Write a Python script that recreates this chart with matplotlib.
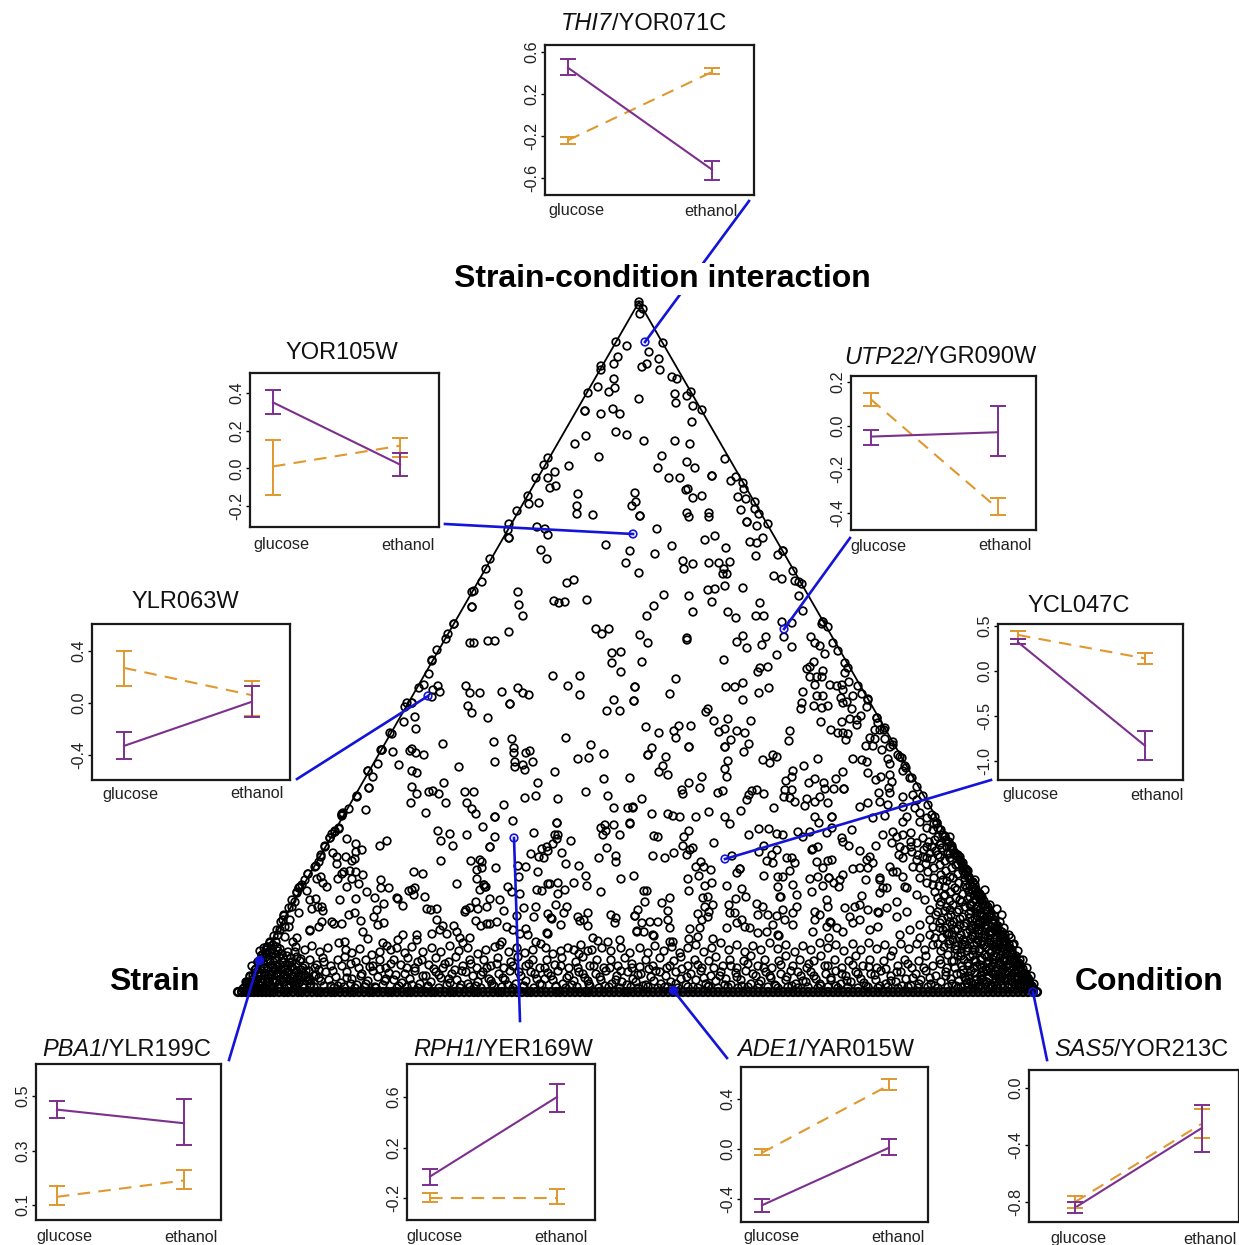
import matplotlib
matplotlib.use('Agg')
import matplotlib.pyplot as plt

plt.rcParams['font.family'] = ['Liberation Sans', 'DejaVu Sans']

# triangle corners
tri_x = [242, 639, 1037, 242]
tri_y = [992, 302, 992, 992]

# genes in the upper part of the triangle
pts_top = [(639,302),(639,305),(643,309),(640,314),(616,342),(627,346),(663,343),(649,352),(618,357),(614,364),(601,366),(601,370),(659,359),(647,364),(642,367),(660,370),(672,377),(677,379),(614,379),(598,387),(615,388),(609,392),(588,393),(691,392),(687,396),(675,394),(676,403),(639,399),(693,406),(702,410),(585,411),(585,411),(601,414),(613,409),(620,414),(692,422),(616,432),(627,435),(586,436),(575,444),(644,441),(675,441),(690,444),(662,456),(599,457),(548,458),(725,459),(687,462),(695,468),(658,468),(569,466),(544,465),(555,472),(548,478),(536,478),(712,476),(712,476),(669,478),(680,478),(736,477),(731,481),(743,483),(744,489),(556,486),(550,488),(686,490),(688,489),(702,496),(693,498),(738,497),(746,499),(755,502),(755,509),(759,514),(741,510),(635,493),(578,494),(528,496),(529,504),(539,503),(636,502),(632,506),(577,506),(577,514),(593,515),(640,516),(640,516),(687,513),(689,517),(709,513),(709,517),(517,511),(509,524),(508,530),(509,538),(509,538),(537,527),(545,529),(548,535),(747,522),(747,522),(757,526),(768,524),(657,529),(715,536),(705,540),(763,538),(750,542),(757,543),(726,548),(672,546),(606,545),(630,551),(541,550),(655,554),(783,551),(783,551),(778,555),(756,556),(547,559),(490,559),(486,569),(626,563),(683,561),(693,564),(709,563),(719,563),(730,562),(684,569),(724,569),(723,574),(727,574),(639,573),(793,571),(774,576),(782,579),(795,581),(799,582),(802,584),(482,582),(567,583),(574,580),(725,586),(743,588),(708,590),(715,589),(472,592),(474,591),(518,592),(664,595),(689,596),(799,596),(712,602),(760,603),(554,601),(559,603),(565,602),(587,600),(519,605),(472,607),(472,607),(654,606),(803,611),(693,612),(728,612),(736,618),(756,616),(764,616),(523,616),(647,616),(454,624),(454,624),(782,622),(792,623),(823,622),(822,624),(828,627),(596,629),(609,629),(602,634),(509,632),(640,635),(784,637),(811,637),(766,637),(743,636),(687,638)]

# middle band, left half
pts_mid_left = [(470,643),(474,643),(488,641),(495,641),(612,653),(621,652),(612,663),(621,672),(432,661),(429,674),(553,676),(580,676),(568,686),(580,695),(635,687),(614,700),(634,701),(607,711),(620,711),(424,685),(419,688),(438,686),(433,690),(440,692),(432,697),(466,686),(470,693),(480,693),(502,692),(518,688),(523,693),(529,695),(510,704),(510,704),(468,706),(472,713),(488,718),(412,703),(412,703),(415,717),(404,722),(416,729),(392,734),(443,744),(494,742),(512,739),(566,738),(591,745),(382,750),(382,750),(393,752),(410,751),(412,749),(416,753),(424,755),(514,748),(514,753),(526,753),(530,751),(604,754),(578,759),(589,758),(378,764),(399,765),(459,767),(495,762),(515,762),(515,767),(523,765),(525,770),(533,762),(555,772),(368,771),(373,777),(412,771),(417,773),(604,779),(630,778),(538,783),(444,783),(369,788),(369,788),(412,787),(417,794),(429,792),(433,791),(439,794),(465,792),(474,792),(357,796),(536,796),(525,798),(558,799),(586,792),(608,796),(411,803),(446,803),(467,803),(472,809),(476,814),(504,805),(614,808),(628,808),(633,808),(349,809),(366,810),(342,814),(342,815),(426,813),(495,817),(495,817),(513,821),(557,823),(557,823),(630,824),(614,825),(483,827),(605,825),(601,828),(606,831),(603,835),(620,835),(339,829),(335,831),(332,834),(330,838),(438,831),(450,834),(467,835),(495,837),(534,833),(555,835),(558,835),(557,839),(347,839),(356,844),(387,841),(380,846),(441,841),(453,846),(490,847),(490,847),(571,841),(553,844),(547,847),(542,849),(548,851),(325,846),(362,850),(356,852),(607,848),(562,853),(531,854),(539,857),(544,858),(616,856),(599,858),(616,862),(333,853),(337,857),(346,857),(355,859),(352,861),(321,857),(319,862),(337,864),(315,867),(441,861),(471,861),(480,860),(482,862),(566,864),(579,866),(518,866),(526,867),(496,868),(477,870),(482,868)]

# middle band, right half
pts_mid_right = [(648,643),(687,640),(737,642),(747,648),(762,645),(777,655),(792,647),(815,643),(820,646),(825,654),(833,643),(642,662),(724,660),(768,667),(760,668),(758,672),(814,662),(810,667),(807,669),(817,677),(823,671),(822,677),(810,677),(815,685),(848,668),(845,673),(676,679),(635,687),(634,701),(670,694),(726,687),(735,687),(743,683),(769,688),(759,693),(743,700),(803,692),(802,703),(801,709),(830,685),(837,686),(842,685),(849,682),(843,690),(817,696),(823,696),(841,698),(853,696),(862,694),(868,699),(814,706),(822,708),(828,706),(843,703),(847,702),(852,709),(867,707),(708,709),(706,712),(714,721),(728,719),(751,721),(821,722),(842,722),(850,719),(861,716),(857,720),(857,725),(877,718),(878,723),(646,727),(659,733),(679,726),(674,731),(676,738),(691,726),(725,729),(719,732),(737,731),(745,733),(731,740),(790,731),(789,741),(831,730),(838,733),(843,733),(848,734),(846,740),(875,730),(880,730),(885,728),(870,738),(875,739),(885,739),(893,742),(866,746),(873,746),(882,750),(890,747),(898,755),(902,758),(888,759),(890,764),(905,766),(903,771),(910,778),(689,747),(689,747),(725,747),(725,747),(749,744),(744,752),(652,748),(648,755),(648,755),(666,757),(663,766),(659,772),(668,775),(728,761),(725,769),(727,777),(763,760),(770,763),(773,755),(777,757),(818,759),(804,766),(793,771),(792,777),(786,781),(853,759),(862,760),(867,762),(868,773),(843,772),(836,779),(881,777),(890,775),(876,780),(892,782),(889,788),(890,793),(815,779),(809,783),(824,783),(825,789),(834,789),(844,789),(844,789),(702,777),(689,783),(700,788),(682,790),(683,794),(718,793),(723,791),(752,791),(757,790),(749,795),(747,800),(764,794),(792,790),(785,790),(784,797),(790,798),(795,802),(807,799),(805,806),(815,802),(820,797),(828,803),(879,793),(880,802),(888,805),(903,797),(913,795),(917,800),(915,808),(903,807),(642,799),(633,807),(630,823),(652,814),(668,814),(673,816),(680,817),(696,817),(709,812),(725,817),(730,824),(741,811),(774,808),(860,807),(868,803),(873,818),(885,816),(815,817),(819,823),(832,817),(832,817),(907,817),(903,822),(920,813),(927,818),(935,817),(937,823),(654,836),(658,837),(689,831),(684,837),(683,846),(693,848),(690,850),(714,843),(749,835),(759,829),(769,829),(777,834),(783,835),(798,832),(803,837),(810,832),(827,833),(832,828),(842,838),(843,842),(849,846),(852,830),(876,846),(860,851),(812,850),(818,847),(813,849),(883,835),(893,832),(897,837),(903,835),(911,833),(911,842),(892,843),(900,847),(920,822),(927,828),(933,830),(938,837),(945,837),(950,837),(927,847),(932,847),(940,845),(948,853),(955,855),(653,856),(665,858),(674,853),(687,855),(732,856),(759,852),(764,846),(777,850),(772,855),(767,861),(773,863),(787,858),(792,858),(795,863),(701,862),(696,867),(704,867),(711,870),(699,876),(740,869),(740,869),(737,873),(764,876),(778,877),(783,877),(790,871),(817,862),(823,868),(828,861),(832,860),(810,879),(818,877),(829,878),(829,878),(843,875),(840,880),(834,883),(839,887),(853,869),(860,868),(867,860),(870,857),(873,863),(868,868),(866,880),(880,878),(893,872),(897,872),(903,858),(917,860),(923,857),(927,858),(940,857),(952,860),(958,857),(963,863),(967,870),(890,867),(903,877),(913,867),(920,878),(927,883),(933,885),(943,880),(950,877)]

# lower band, left half
pts_low_left = [(350,871),(344,872),(356,872),(363,875),(308,874),(342,874),(352,879),(338,879),(317,879),(321,877),(323,883),(327,887),(359,884),(347,887),(414,872),(423,874),(538,872),(519,877),(477,879),(586,876),(621,879),(634,876),(381,880),(381,888),(389,888),(457,884),(484,885),(484,885),(485,887),(480,890),(486,887),(508,887),(512,892),(520,894),(548,884),(550,884),(558,883),(574,883),(587,886),(537,890),(542,891),(565,890),(558,894),(601,892),(412,890),(415,888),(409,891),(414,895),(367,892),(375,898),(425,897),(299,888),(300,887),(302,885),(307,891),(297,893),(340,900),(356,899),(397,898),(398,899),(384,904),(310,900),(316,899),(295,902),(292,907),(312,909),(318,907),(322,907),(323,911),(299,913),(377,910),(403,906),(427,909),(431,910),(437,909),(476,902),(487,907),(490,899),(500,900),(470,908),(465,912),(466,910),(478,909),(504,911),(524,908),(536,907),(556,905),(567,907),(564,913),(588,913),(611,915),(616,918),(615,923),(635,916),(517,916),(534,917),(548,914),(551,918),(552,919),(578,917),(580,921),(584,920),(588,926),(561,925),(284,915),(283,920),(290,920),(349,915),(355,913),(374,917),(384,923),(378,925),(361,921),(342,924),(322,922),(332,922),(334,924),(319,927),(310,930),(310,931),(437,920),(443,926),(454,926),(476,921),(481,926),(487,924),(490,924),(497,922),(507,927),(513,930),(526,929),(280,930),(285,927),(289,927),(278,935),(285,937),(363,932),(368,939),(432,934),(403,935),(398,940),(417,935),(417,940),(440,930),(447,934),(457,932),(460,938),(463,943),(470,938),(520,934),(528,935),(547,933),(548,934),(593,938),(598,941),(608,942),(620,940),(637,931),(270,943),(276,942),(267,947),(297,938),(293,942),(339,943),(345,942),(383,943),(387,946),(397,948),(502,942),(500,945),(536,942),(541,944),(568,948),(574,950),(581,945),(588,951),(602,948),
(260,951),(266,953),(272,950),(280,949),(288,952),(296,947),(305,950),(312,946),(320,952),(328,948),(346,950),(352,953),(360,949),(372,955),(380,952),(391,950),(405,953),(412,947),(423,952),(432,948),(441,952),(450,946),(459,951),(468,948),(478,954),(486,950),(495,947),(509,952),(517,948),(525,953),(533,950),(546,948),(553,954),(561,951),(579,954),(592,950),(611,951),(621,948),(630,953),
(252,966),(258,962),(264,968),(270,960),(277,965),(283,958),(290,963),(297,957),(303,968),(310,960),(317,965),(323,958),(331,966),(338,960),(345,957),(351,964),(359,968),(366,960),(373,966),(380,960),(386,968),(394,960),(401,965),(408,958),(415,968),(422,960),(429,965),(436,958),(443,968),(449,962),(456,957),(463,966),(470,960),(477,968),(484,960),(491,966),(498,958),(504,968),(511,962),(518,957),(526,966),(533,960),(540,968),(547,960),(555,965),(562,958),(569,968),(576,962),(583,957),(590,966),(597,960),(604,968),(611,960),(618,966),(625,958),(632,968),
(246,982),(250,976),(255,984),(259,972),(263,979),(267,986),(272,974),(277,981),(281,970),(286,978),(291,985),(296,973),(300,980),(306,971),(311,984),(316,975),(321,981),(326,972),(331,986),(336,977),(341,983),(347,972),(352,979),(357,985),(362,974),(368,981),(373,971),(378,977),(383,985),(389,973),(394,980),(399,986),(405,974),(410,979),(415,971),(420,984),(426,976),(431,982),(436,972),(441,978),(447,985),(452,974),(457,980),(462,971),(468,984),(473,976),(478,982),(483,972),(489,979),(494,986),(499,974),(505,980),(510,971),(516,984),(521,976),(526,981),(531,972),(537,979),(542,985),(548,973),(553,980),(558,971),(563,984),(569,976),(574,981),(579,972),(585,978),(590,986),(596,974),(601,980),(606,971),(612,984),(617,976),(622,982),(628,972),(633,979),
(248,987),(253,980),(258,988),(262,983),(268,978),(274,988),(279,984),(284,975),(289,988),(294,982),(299,976),(304,988),(309,979),(314,987),(319,970),(324,986),(334,988),(344,987),(355,988),(365,987),(376,988),(386,979),(397,988),(407,987),(418,988),(428,987),(439,988),(449,979),(460,988),(470,987),(481,988),(491,981),(502,987),(513,988),(523,987),(534,988),(545,979),(556,987),(566,988),(577,987),(588,981),(599,988),(609,987),(620,988),(631,987)]

# lower band, right half, getting dense towards the corner
pts_low_right = [(644,891),(647,891),(645,902),(662,903),(670,898),(638,910),(635,916),(642,923),(650,922),(658,922),(668,911),(668,920),(670,928),(637,932),(644,932),(653,935),(654,936),(703,898),(708,897),(713,905),(705,907),(709,912),(698,914),(708,917),(702,920),(700,928),(690,929),(698,937),(689,939),(670,942),(673,942),(713,939),(730,913),(735,913),(742,920),(737,923),(745,927),(727,928),(757,904),(763,907),(758,915),(768,915),(777,916),(783,910),(785,920),(773,925),(793,925),(750,928),(758,933),(767,932),(778,935),(779,936),(815,912),(820,915),(815,920),(830,922),(831,923),(827,927),(813,932),(837,928),(843,932),(829,938),(850,917),(853,923),(860,920),(878,912),(879,913),(887,908),(897,917),(907,912),(878,927),(870,930),(688,879),(689,891),(705,886),(712,883),(727,886),(742,889),(746,897),(736,899),(729,905),(778,887),(780,897),(781,897),(793,885),(797,895),(797,907),(793,913),(812,892),(823,886),(827,900),(828,907),(845,908),(855,907),(862,896),(860,905),(868,910),(880,880),(883,888),(880,893),(887,888),(897,902),(907,888),(917,895),(905,887),(925,900),(935,892),(945,895),(955,888),(965,885),(975,880),(985,890),(930,910),(940,905),(950,910),(960,900),(970,905),(980,910),(990,905),(920,925),(930,920),(940,928),(950,922),(960,925),(970,918),(980,922),(990,915),(1000,922),(900,935),(910,930),(920,938),(930,935),(942,938),(952,935),(963,940),(975,936),(985,935),(995,930),(1005,935),
(640,948),(648,953),(655,946),(664,951),(672,947),(680,953),(688,948),(696,945),(704,952),(712,948),(721,943),(729,950),(737,945),(745,952),(753,946),(761,950),(770,943),(778,949),(786,945),(795,952),(803,946),(811,950),(820,943),(828,948),(836,945),(844,951),(853,944),(861,950),(869,943),(877,949),(885,945),(893,951),(901,944),(909,949),(917,944),(925,950),(933,945),(941,951),(949,944),(957,950),(965,945),(973,950),(981,944),(989,950),(997,944),(1005,949),(1013,945),
(640,967),(646,960),(653,966),(660,958),(667,968),(674,961),(681,957),(688,966),(695,960),(702,968),(709,961),(716,957),(723,966),(730,960),(737,968),(744,961),(751,956),(758,966),(765,960),(772,968),(779,961),(786,956),(793,966),(800,960),(807,968),(814,961),(821,956),(828,966),(835,960),(842,968),(849,961),(856,956),(863,966),(870,960),(877,968),(884,961),(891,956),(898,966),(905,960),(912,968),(919,961),(926,956),(933,966),(940,960),(947,968),(954,961),(961,956),(968,966),(975,960),(982,968),(989,961),(996,956),(1003,966),(1010,960),(1017,965),
(636,982),(641,974),(646,985),(651,977),(656,971),(661,984),(666,976),(671,982),(676,972),(681,979),(686,985),(691,974),(696,980),(701,971),(706,984),(711,976),(716,981),(721,972),(726,979),(731,985),(736,973),(741,980),(746,971),(751,984),(756,976),(761,981),(766,972),(771,978),(776,986),(781,974),(786,980),(791,971),(796,984),(801,976),(806,982),(811,972),(816,979),(821,986),(826,974),(831,980),(836,971),(841,984),(846,976),(851,982),(856,972),(861,979),(866,986),(871,974),(876,980),(881,971),(886,984),(891,976),(896,982),(901,972),(906,979),(911,986),(916,974),(921,980),(926,971),(931,984),(936,976),(941,982),(946,972),(951,979),(956,986),(961,974),(966,980),(971,971),(976,984),(981,976),(986,982),(991,972),(996,979),(1001,986),(1006,974),(1011,980),(1016,971),(1021,984),(1026,977),
(638,988),(648,987),(658,988),(668,987),(678,988),(688,987),(698,988),(708,987),(718,988),(728,987),(738,988),(748,987),(758,988),(768,987),(778,988),(788,987),(798,988),(808,987),(818,988),(828,987),(838,988),(848,987),(858,988),(868,987),(878,988),(888,987),(898,988),(908,987),(918,988),(928,987),(938,988),(948,987),(958,988),(968,987),(978,988),(988,987),(998,988),(1008,987),(1018,988),(1028,987),
(1000,965),(1005,958),(1010,952),(1015,960),(1020,968),(1024,975),(1028,982),(1030,985),(1012,970),(1018,976),(1022,980),(1008,972),(1002,977),(996,974),(1016,966),(1006,944),(1011,938),(994,947),(1000,941),(988,938),(995,927),(1002,915),(997,909),(985,925),(978,930),(972,928),(1004,928),(1009,935),(1014,944),(1018,951),(1023,960),(1027,968),(1031,976),(1034,984)]

# second helping for the solid black corner on the right
pts_corner_right = [(1032,986),(1027,985),(1021,987),(1015,985),(1009,984),(1003,988),(997,985),(991,986),(985,984),(979,987),(973,985),(967,983),(961,987),
(1029,980),(1024,981),(1018,979),(1013,982),(1007,979),(1001,981),(995,983),(989,978),(983,980),(977,979),(971,982),(965,978),(959,981),
(1026,974),(1021,975),(1016,973),(1011,976),(1005,972),(999,976),(993,974),(987,971),(981,975),(975,973),(969,976),(963,970),(957,974),
(1023,969),(1018,970),(1013,967),(1008,965),(1003,970),(997,968),(992,966),(986,969),(980,965),(974,968),(968,963),(962,966),(955,968),
(1019,963),(1014,961),(1009,964),(1004,961),(999,963),(993,960),(988,963),(982,958),(976,962),(970,957),(964,960),(958,956),(952,961),
(1016,956),(1011,957),(1006,954),(1001,955),(996,957),(991,953),(985,955),(979,951),(973,955),(967,951),(961,953),(955,949),(948,955),
(1012,950),(1007,951),(1002,948),(997,950),(992,951),(986,947),(980,949),(974,945),(968,948),(962,944),(956,946),(950,941),(944,947),
(1009,944),(1004,942),(999,945),(994,942),(989,943),(983,941),(977,943),(971,939),(965,942),(959,938),(953,940),(947,934),(938,944),
(1005,938),(1000,936),(995,939),(990,935),(985,938),(979,934),(973,937),(967,933),(961,935),(955,930),(949,933),(943,930),(935,938),
(1002,932),(997,931),(992,933),(987,929),(982,931),(976,927),(970,930),(964,926),(958,929),(952,925),(946,928),(940,923),(933,927),
(998,926),(993,924),(988,926),(983,922),(978,925),(972,921),(966,923),(960,919),(954,922),(948,917),(942,920),(936,915),
(995,920),(990,917),(985,919),(980,916),(975,918),(969,914),(963,917),(957,912),(951,915),(945,911),(938,912),
(991,913),(986,911),(981,913),(976,909),(971,911),(965,907),(959,910),(953,905),(947,907),(941,902),
(988,907),(983,904),(978,906),(973,902),(968,899),(962,902),(956,898),(950,901),(944,896),(938,898),
(984,901),(979,897),(974,895),(969,892),(963,894),(957,890),(951,892),(945,887),(939,886),
(980,894),(975,889),(970,886),(965,880),(959,883),(953,878),(947,881),(941,875),(934,878),
(973,882),(968,876),(963,871),(958,874),(952,868),(946,871),(940,865),(934,868),(928,872),
(966,869),(961,862),(956,865),(950,858),(945,861),(938,855),(932,859),(926,864),(920,868),
(958,855),(953,850),(948,853),(942,848),(936,851),(930,853),(924,850),(918,855),(912,852),
(951,846),(946,840),(941,843),(935,840),(929,842),(923,838),(917,843),(911,847),(905,850),(899,855),
(1031,989),(1025,982),(1019,983),(1012,987),(1006,981),(999,979),(993,987),(987,982),(981,979),(975,988),(969,979),(1028,978),(1022,972),(1015,977),(1009,968),(1002,974),(995,971),(989,968),(983,971),(977,966),(1020,960),(1013,955),(1007,960),(1000,958),(994,963),(987,957),(981,960),(975,950),(1010,948),(1003,945),(996,947),(990,940),(984,945),(978,940),(972,935),(1003,935),(997,928),(991,931),(985,928),(979,924),(973,926),(994,916),(988,919),(982,915),(977,913),(971,906),(986,905),(981,901),(976,899),(970,897),(982,897),(977,893),(972,890),(967,888),(975,885),(970,880),(965,875),(968,871),(963,868),(958,864),(960,857),(955,853),(950,854),(952,846),(947,847),(943,835),(938,828),(934,824)]

# solid black corner on the left
pts_corner_left = [(243,989),(247,989),(251,987),(255,988),(259,985),(263,988),(267,983),(271,987),(275,983),(279,987),(283,982),(287,986),(291,981),(295,986),(299,983),(303,985),(307,981),
(249,982),(253,983),(257,980),(261,982),(265,980),(269,978),(273,981),(277,976),(281,979),(285,975),(289,980),(293,976),(297,979),(301,975),(306,977),(310,980),(314,976),
(253,976),(257,975),(261,976),(265,973),(269,975),(273,971),(277,973),(281,974),(285,970),(289,972),(293,969),(297,971),(301,970),(305,966),(309,971),
(256,969),(260,968),(264,964),(268,968),(272,965),(276,969),(280,965),(284,967),(288,966),(292,962),(296,964),(300,961),
(259,963),(263,958),(267,960),(271,956),(275,960),(279,957),(283,962),(287,956),(291,958),(295,952),(262,955),(266,957),(270,952),(274,954),(278,951),(282,954),(268,947),(273,945),(277,947),(264,948)]

# extra marks in the crowded part along the base
pts_dense_bottom = [(247,985),(251,983),(256,980),(260,986),(265,976),(269,982),(273,968),(278,988),(282,962),(287,972),(292,967),(296,983),(301,959),(305,975),(310,987),(315,968),(319,978),(324,962),(329,980),(333,971),(338,986),(342,966),(347,978),(351,984),(356,962),(361,976),(366,984),(370,967),(375,987),(380,969),(385,981),(391,964),(396,975),(402,983),(407,968),(412,985),(418,962),(423,976),(428,986),(434,969),(439,975),(445,964),(450,983),(455,970),(461,985),(466,972),(471,964),(476,986),(481,975),(487,968),(492,984),(497,964),(503,978),(508,985),(513,966),(519,972),(524,986),(529,964),(535,974),(540,984),(545,968),(551,976),(556,986),(561,966),(567,978),(572,985),(578,968),(583,974),(589,984),(594,966),(600,977),(605,986),(610,968),(616,980),(621,971),(627,985),(632,964),(638,975),(643,986),(649,969),(654,981),(660,972),(665,987),(670,966),(676,984),(682,969),(687,977),(693,987),(698,965),(704,978),(709,986),(714,968),(720,976),(725,985),(731,966),(737,977),(742,986),(748,964),(753,974),(759,984),(764,968),(770,976),(775,985),(781,965),(787,977),(792,986),(798,972),(803,981),(809,964),(814,976),(820,984),(825,966),(831,978),(836,986),(842,974),(847,981),(853,965),(858,974),(864,983),(869,967),(875,975),(880,986),(886,969),(891,981),(897,972),(902,986),(908,964),(913,978),(919,984),(924,968),(930,978),(935,986),(941,964),(946,976),(952,984)]

# points sitting close on the two slanted edges, mostly the lower part
edge_left = [(448,634),(446,639),(437,650),(432,660),(407,703),(405,707),(390,733),(381,750),(368,771),(357,797),(342,816),(343,813),(339,828),(335,832),(330,838),(325,847),(321,855),(316,866),(308,874),(305,880),(299,888),(297,892),(292,900),(289,908),(284,916),(281,922),(277,930),(274,936),(270,942),(266,950),(262,956),(258,962),(255,970),(250,977),(247,983),(244,988)]
edge_right = [(823,622),(838,651),(845,663),(858,686),(868,700),(877,718),(884,730),(893,745),(900,757),(906,768),(912,778),(917,787),(923,796),(928,805),(932,815),(937,823),(941,830),(945,836),(949,842),(952,848),(956,854),(960,860),(963,866),(966,872),(969,877),(973,883),(976,889),(979,894),(982,899),(985,905),(988,910),(991,915),(994,921),(997,926),(1000,931),(1003,937),(1006,942),(1009,948),(1012,953),(1015,958),(1018,964),(1021,969),(1024,974),(1027,979),(1030,984),(1033,988)]

# genes with no interaction, on the bottom edge
base_x = [238,242,246,250,254,258,262,266,270,274,279,284,288,293,298,302,307,312,317,321,326,331,335,340,345,350,354,359,364,369,373,378,383,388,392,397,402,407,411,416,421,426,431,435,440,445,450,454,459,464,469,474,478,483,488,493,498,502,507,512,517,522,527,531,536,541,546,551,556,560,565,570,575,580,585,589,594,599,604,609,614,619,624,628,633,638,643,648,653,658,663,668,673,678,683,688,693,698,703,708,713,718,723,728,733,738,743,748,753,758,763,768,773,778,783,788,793,798,803,808,813,818,823,828,833,838,843,848,853,858,863,868,873,878,883,888,893,898,903,908,913,918,923,928,933,938,943,948,953,958,963,968,973,978,983,988,993,998,1003,1008,1013,1018,1023,1028,1033,1037]

# the nine gene panels
title_it = ['THI7', '', 'UTP22', '', '', 'PBA1', 'RPH1', 'ADE1', 'SAS5']
title_rest = ['/YOR071C', 'YOR105W', '/YGR090W', 'YLR063W', 'YCL047C', '/YLR199C', '/YER169W', '/YAR015W', '/YOR213C']
yticks = [[0.6, 0.2, -0.2, -0.6], [0.4, 0.2, 0.0, -0.2], [0.2, 0.0, -0.2, -0.4], [0.4, 0.0, -0.4], [0.5, 0.0, -0.5, -1.0],
          [0.5, 0.3, 0.1], [0.6, 0.2, -0.2], [0.4, 0.0, -0.4], [0.0, -0.4, -0.8]]
# glucose, ethanol: mean, upper, lower
purple_mean = [(0.45, -0.52), (0.35, 0.02), (-0.05, -0.03), (-0.33, 0.01), (0.32, -0.83), (0.45, 0.40), (-0.03, 0.60), (-0.45, 0.01), (-0.84, -0.28)]
purple_hi = [(0.53, -0.44), (0.415, 0.08), (-0.02, 0.09), (-0.22, 0.13), (0.36, -0.67), (0.48, 0.49), (0.03, 0.70), (-0.40, 0.08), (-0.80, -0.12)]
purple_lo = [(0.38, -0.62), (0.29, -0.04), (-0.09, -0.14), (-0.43, -0.11), (0.30, -0.99), (0.42, 0.32), (-0.10, 0.48), (-0.50, -0.05), (-0.88, -0.45)]
orange_mean = [(-0.24, 0.41), (0.01, 0.12), (0.12, -0.38), (0.27, 0.06), (0.40, 0.14), (0.13, 0.19), (-0.20, -0.20), (-0.03, 0.51), (-0.80, -0.25)]
orange_hi = [(-0.21, 0.45), (0.15, 0.16), (0.15, -0.33), (0.40, 0.17), (0.44, 0.20), (0.17, 0.23), (-0.16, -0.13), (0.0, 0.56), (-0.76, -0.15)]
orange_lo = [(-0.28, 0.39), (-0.14, 0.06), (0.09, -0.41), (0.13, -0.10), (0.36, 0.08), (0.10, 0.16), (-0.23, -0.25), (-0.05, 0.47), (-0.84, -0.35)]

# picture layout of each panel: left, top, right, bottom, glucose x, ethanol x
boxes = [(545,45,754,195,568,712), (250,373,439,527,273,400), (851,376,1036,530,871,998), (92,624,290,780,124,252), (998,624,1183,780,1018,1145),
         (36,1064,221,1220,57,184), (407,1064,595,1220,430,557), (741,1067,928,1222,762,889), (1029,1070,1239,1222,1075,1202)]
# tick values and their picture heights, used to set the y scale
scale_refs = [(0.6,52,-0.6,178), (0.4,393,-0.2,506), (0.2,382,-0.4,513), (0.4,651,-0.4,755), (0.0,671,-1.0,761),
              (0.5,1096,0.1,1205), (0.6,1097,-0.2,1198), (0.4,1099,-0.4,1199), (0.0,1088,-0.8,1202)]
title_left = [561, 285, 844, 132, 1028, 42, 413, 737, 1054]
title_y = [24, 353, 357, 602, 606, 1050, 1050, 1050, 1050]
# x labels below the boxes: glucose x, ethanol x, y
label_pos = [(576,711,211), (281,408,545), (878,1005,546), (130,257,794), (1030,1157,795), (64,191,1237), (434,561,1237), (771,898,1237), (1078,1210,1239)]

# leader lines: from panel to gene
leaders = [(749,201,645,342), (445,524,633,534), (850,538,784,629), (297,779,428,696), (991,780,725,859),
           (229,1060,259,960), (520,1021,514,838), (727,1058,673,990), (1047,1060,1033,992)]
leader_filled = [False, False, False, False, False, True, False, True, False]

W, H = 1239, 1245
fig = plt.figure(figsize=(W / 100, H / 100), dpi=100)
ax = fig.add_axes([0, 0, 1, 1])
ax.set_xlim(0, W)
ax.set_ylim(H, 0)
ax.axis('off')

ax.plot(tri_x, tri_y, color='black', lw=1.3, zorder=1)

all_pts = pts_top + pts_mid_left + pts_mid_right + pts_low_left + pts_low_right + pts_corner_right + pts_corner_left + pts_dense_bottom + edge_left + edge_right
ax.scatter([p[0] for p in all_pts], [p[1] for p in all_pts], s=30, facecolors='none', edgecolors='black', linewidths=1.25, zorder=2)
ax.scatter(base_x, [992] * len(base_x), s=30, facecolors='none', edgecolors='black', linewidths=1.9, zorder=2)

for (x0, y0, x1, y1), filled in zip(leaders, leader_filled):
    ax.plot([x0, x1], [y0, y1], color='#1414d8', lw=1.9, zorder=3)
    ax.scatter([x1], [y1], s=30, facecolors='#1414d8' if filled else 'none', edgecolors='#1414d8', linewidths=1.2, zorder=4)

# the title sits on a white patch, it hides the top leader
ax.text(662, 279, 'Strain-condition interaction', fontsize=23, fontweight='bold', ha='center', va='center',
        zorder=5, bbox=dict(facecolor='white', edgecolor='none', pad=1))
ax.text(154, 982, 'Strain', fontsize=23, fontweight='bold', ha='center', va='center')
ax.text(1149, 982, 'Condition', fontsize=23, fontweight='bold', ha='center', va='center')

PURPLE = '#7d2f8e'
ORANGE = '#e0982f'
TXT = '#222222'

for i in range(9):
    l, t, r, b, gx, ex = boxes[i]
    a = fig.add_axes([l / W, 1 - b / H, (r - l) / W, (b - t) / H])
    v0, p0, v1, p1 = scale_refs[i]
    per_px = (v0 - v1) / (p1 - p0)
    a.set_ylim(v0 - (b - p0) * per_px, v0 + (p0 - t) * per_px)
    a.set_xlim(1 - (gx - l) / (ex - gx), 2 + (r - ex) / (ex - gx))

    a.plot([1, 2], orange_mean[i], color=ORANGE, lw=1.5, ls=(0, (6, 4)))
    a.plot([1, 2], purple_mean[i], color=PURPLE, lw=1.5)
    for j in [0, 1]:
        a.errorbar([j + 1], [orange_mean[i][j]], yerr=[[orange_mean[i][j] - orange_lo[i][j]], [orange_hi[i][j] - orange_mean[i][j]]],
                   color=ORANGE, capsize=6, capthick=1.4, elinewidth=1.4)
        a.errorbar([j + 1], [purple_mean[i][j]], yerr=[[purple_mean[i][j] - purple_lo[i][j]], [purple_hi[i][j] - purple_mean[i][j]]],
                   color=PURPLE, capsize=6, capthick=1.4, elinewidth=1.4)

    a.set_xticks([])
    a.set_yticks(yticks[i])
    a.set_yticklabels(['%.1f' % v for v in yticks[i]], fontsize=11.7, rotation=90, va='center', color=TXT)
    a.tick_params(axis='y', length=3, width=1, pad=1)
    for s in a.spines.values():
        s.set_linewidth(1.6)
        s.set_color('#1a1a1a')

    lx_g, lx_e, ly = label_pos[i]
    ax.text(lx_g, ly, 'glucose', fontsize=11.7, color=TXT, ha='center', va='center')
    ax.text(lx_e, ly, 'ethanol', fontsize=11.7, color=TXT, ha='center', va='center')

    # italic gene name first, the systematic name follows straight after it
    if title_it[i]:
        t_it = ax.text(title_left[i], title_y[i], title_it[i], fontsize=17, style='italic', ha='left', va='center', color='#111111')
        ax.annotate(title_rest[i], xy=(1, 0.5), xycoords=t_it, fontsize=17, ha='left', va='center', color='#111111')
    else:
        ax.text(title_left[i], title_y[i], title_rest[i], fontsize=17, ha='left', va='center', color='#111111')

plt.savefig('out.png', dpi=100)
plt.close()
